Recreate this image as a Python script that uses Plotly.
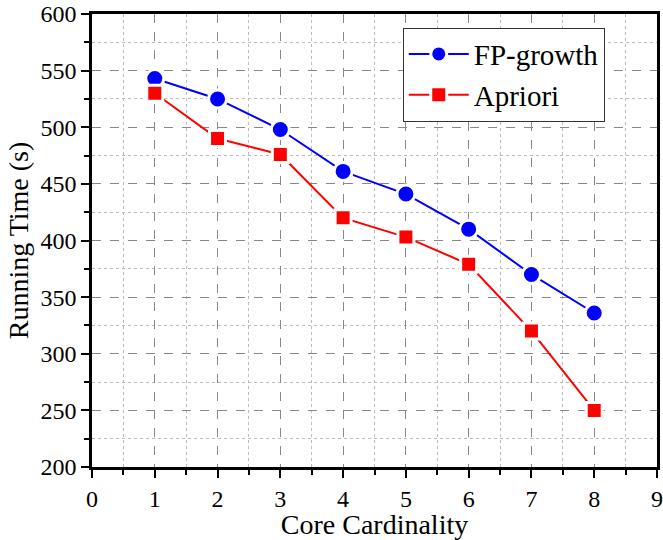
import plotly.graph_objects as go

cores = [1, 2, 3, 4, 5, 6, 7, 8]
fp_growth = [543, 525, 498, 461, 441, 410, 370, 336]
apriori = [530, 490, 476, 420, 403, 379, 320, 250]

font_family = "Liberation Serif"

fig = go.Figure()
fig.add_trace(go.Scatter(
    x=cores, y=fp_growth, name="FP-growth", mode="lines+markers",
    line=dict(color="#0000FF", width=2),
    marker=dict(symbol="circle", size=18, color="#0000FF", line=dict(color="white", width=3)),
))
fig.add_trace(go.Scatter(
    x=cores, y=apriori, name="Apriori", mode="lines+markers",
    line=dict(color="#FF0000", width=2),
    marker=dict(symbol="square", size=16, color="#FF0000", line=dict(color="white", width=3)),
))

fig.update_layout(
    width=663, height=540,
    margin=dict(l=92, r=6, t=14, b=73, autoexpand=False),
    paper_bgcolor="white", plot_bgcolor="white",
    font=dict(family=font_family, color="black", size=24),
    legend=dict(
        x=0.55, y=0.97, xanchor="left", yanchor="top",
        bgcolor="white", bordercolor="#333333", borderwidth=1,
        font=dict(size=29, family=font_family),
        itemwidth=60, tracegroupgap=0,
    ),
    showlegend=True,
)

fig.update_xaxes(
    range=[0, 9], dtick=1, tick0=0, automargin=False,
    showline=True, linecolor="black", linewidth=2.5, mirror=True,
    ticks="outside", ticklen=8, tickwidth=2, tickcolor="black",
    showgrid=True, gridcolor="#888888", griddash="dash", gridwidth=1,
    minor=dict(dtick=0.5, ticks="outside", ticklen=5, tickwidth=2, tickcolor="black",
               showgrid=True, gridcolor="#BBBBBB", griddash="dot", gridwidth=1),
    zeroline=False,
    title=dict(text="Core Cardinality", font=dict(size=28, family=font_family), standoff=0),
    tickfont=dict(size=24, family=font_family),
)
fig.update_yaxes(
    range=[200, 600], dtick=50, tick0=200, automargin=False,
    showline=True, linecolor="black", linewidth=2.5, mirror=True,
    ticks="outside", ticklen=8, tickwidth=2, tickcolor="black",
    showgrid=True, gridcolor="#888888", griddash="dash", gridwidth=1,
    minor=dict(dtick=25, ticks="outside", ticklen=5, tickwidth=2, tickcolor="black",
               showgrid=True, gridcolor="#BBBBBB", griddash="dot", gridwidth=1),
    zeroline=False,
    title=dict(text="Running Time (s)", font=dict(size=28, family=font_family), standoff=4),
    tickfont=dict(size=24, family=font_family),
)

fig.write_html("out.html", config={"displayModeBar": False},
               post_script="document.body.style.margin='0';")
